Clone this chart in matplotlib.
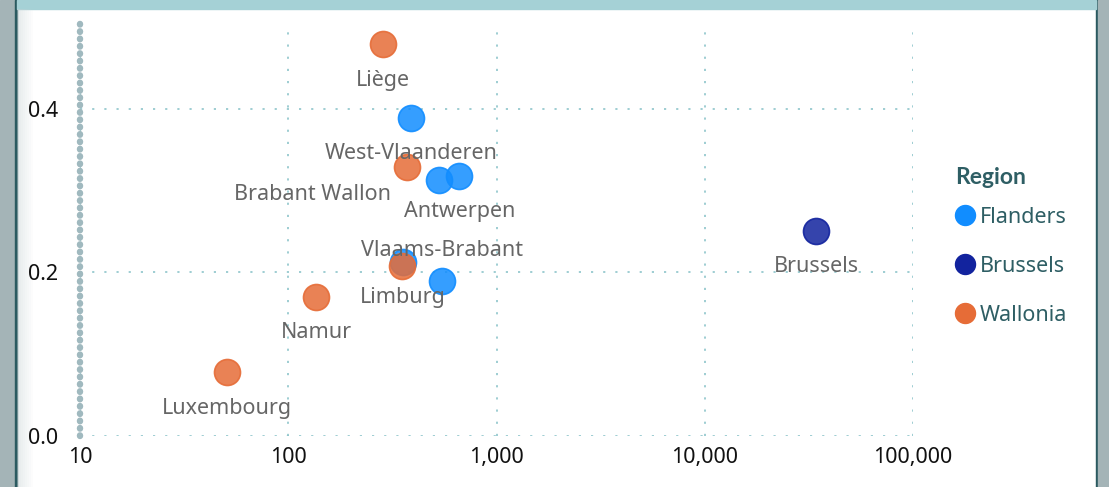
import matplotlib
matplotlib.use("Agg")
import matplotlib.pyplot as plt
from matplotlib.colors import to_rgba
from matplotlib.lines import Line2D
from matplotlib.patches import Rectangle
from matplotlib.ticker import FuncFormatter, NullLocator

plt.rcParams['font.family'] = ['Noto Sans', 'DejaVu Sans']

# --- data ---
provinces = ['West-Vlaanderen', 'Oost-Vlaanderen', 'Antwerpen', 'Limburg', 'Vlaams-Brabant',
             'Brussels',
             'Liège', 'Brabant Wallon', 'Hainaut', 'Namur', 'Luxembourg']
regions = ['Flanders'] * 5 + ['Brussels'] + ['Wallonia'] * 5
x_vals = [388, 527, 664, 356, 550, 34300, 284, 373, 352, 136, 51]
y_vals = [0.389, 0.313, 0.318, 0.213, 0.189, 0.251, 0.479, 0.329, 0.208, 0.170, 0.078]
region_order = ['Flanders', 'Brussels', 'Wallonia']
x_ticks = [10, 100, 1000, 10000, 100000]
y_ticks = [0.0, 0.2, 0.4]

colors = {'Flanders': '#118DFF', 'Brussels': '#12239E', 'Wallonia': '#E66C37'}

# label placement (pixel offsets from the point); None = label hidden
label_pos = {
    'Brabant Wallon': (-16, -28, 'right'),
    'Vlaams-Brabant': (0, 31, 'center'),
    'Oost-Vlaanderen': None,
    'Hainaut': None,
}

fig = plt.figure(figsize=(11.09, 4.87), dpi=100, facecolor='white')
ax = fig.add_axes([80 / 1109, 1 - 436 / 487, 833 / 1109, (436 - 23) / 487])

# frame decoration
fig.add_artist(Rectangle((0, 0), 15 / 1109, 1, transform=fig.transFigure, color='#A4B4B7', zorder=-5))
fig.add_artist(Rectangle((15 / 1109, 0), 2 / 1109, 1, transform=fig.transFigure, color='#2B5A60', zorder=-5))
fig.add_artist(Rectangle((1096 / 1109, 0), 2 / 1109, 1, transform=fig.transFigure, color='#2B5A60', zorder=-5))
fig.add_artist(Rectangle((1098 / 1109, 0), 11 / 1109, 1, transform=fig.transFigure, color='#A4B4B7', zorder=-5))
fig.add_artist(Rectangle((17 / 1109, 1 - 9 / 487), 1079 / 1109, 9 / 487, transform=fig.transFigure,
                         color='#A5D1D6', zorder=-5))
for i in range(8):
    fig.add_artist(Rectangle(((17 + i * 2) / 1109, 0), 2 / 1109, 1 - 9 / 487, transform=fig.transFigure,
                             color='#C9D3D5', alpha=0.45 * (1 - i / 8), lw=0, zorder=-4))

for reg in region_order:
    xs = [x for x, r in zip(x_vals, regions) if r == reg]
    ys = [y for y, r in zip(y_vals, regions) if r == reg]
    ax.scatter(xs, ys, s=350, facecolor=to_rgba(colors[reg], 0.85),
               edgecolor=to_rgba(colors[reg], 0.9), linewidth=1.2, zorder=3)

for name, x, y in zip(provinces, x_vals, y_vals):
    pos = label_pos.get(name, (0, -36, 'center'))
    if pos is None:
        continue
    dx, dy, ha = pos
    ax.annotate(name, (x, y), xytext=(dx, dy), textcoords='offset pixels',
                ha=ha, va='center', fontsize=15.5, color='#666666', zorder=5)

ax.set_xscale('log')
ax.set_xlim(10, 100000)
ax.set_ylim(0, 0.505)
ax.set_xticks(x_ticks)
ax.xaxis.set_major_formatter(FuncFormatter(lambda v, p: f'{v:,.0f}'))
ax.xaxis.set_minor_locator(NullLocator())
ax.set_yticks(y_ticks)
ax.set_yticklabels([f'{v:.1f}' for v in y_ticks])
ax.tick_params(length=0, labelsize=15.5, labelcolor='#111111')
ax.tick_params(axis='x', pad=8)
ax.tick_params(axis='y', pad=16)

for s in ax.spines.values():
    s.set_visible(False)
ax.grid(True, color='#8EC5CB', linewidth=1.2, dashes=(1.3, 6.0))
ax.set_axisbelow(True)
ax.axvline(10, color='#A0B9BF', linewidth=4.6, dashes=(0.1, 1.05),
           dash_capstyle='round', clip_on=False, zorder=2)

# legend: title as separate text so the gap below it can differ from the row spacing
fig.text(955 / 1109, 1 - 178 / 487, 'Region', ha='left', va='center', fontsize=16.5,
         fontweight='bold', family=['Lato', 'DejaVu Sans'], color='#2E5E64')
handles = [Line2D([], [], marker='o', linestyle='', markersize=14.4,
                  markerfacecolor=colors[r], markeredgecolor=colors[r]) for r in region_order]
leg = ax.legend(handles, region_order, loc='upper left',
                bbox_to_anchor=(955 / 1109, 1 - 207 / 487), bbox_transform=fig.transFigure,
                frameon=False, fontsize=15.5, labelcolor='#2E5E64', handlelength=0.9,
                handletextpad=0.25, labelspacing=1.3, borderpad=0, borderaxespad=0)

fig.savefig('out.png', dpi=100, facecolor=fig.get_facecolor())
